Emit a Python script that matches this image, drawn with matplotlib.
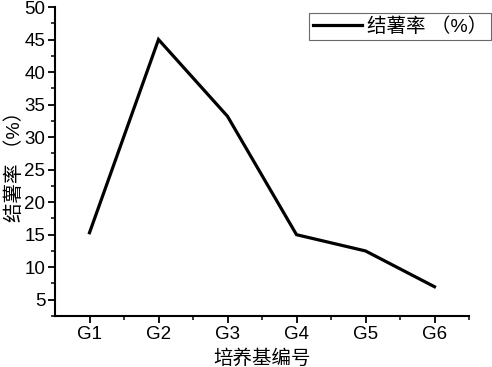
import matplotlib
matplotlib.use('Agg')
import matplotlib.pyplot as plt
from matplotlib.ticker import MultipleLocator

plt.rcParams['font.family'] = ['Liberation Sans', 'Noto Sans CJK SC', 'DejaVu Sans']

# 数据
groups = ['G1', 'G2', 'G3', 'G4', 'G5', 'G6']
rate = [15.3, 45.0, 33.2, 15.0, 12.5, 7.0]

fig = plt.figure(figsize=(4.92, 3.67), dpi=100)
ax = fig.add_axes([55 / 492, 51 / 367, 414 / 492, 309 / 367])

x = list(range(1, len(groups) + 1))
ax.plot(x, rate, color='black', lw=2.3, label='结薯率 （%）', solid_joinstyle='miter')

ax.set_xlim(0.5, 6.5)
ax.set_ylim(2.5, 50)
ax.set_xticks(x)
ax.set_xticklabels(groups)
ax.set_xticks([1.5, 2.5, 3.5, 4.5, 5.5, 6.5], minor=True)
ax.yaxis.set_major_locator(MultipleLocator(5))
ax.yaxis.set_minor_locator(MultipleLocator(2.5))

for s in ['top', 'right']:
    ax.spines[s].set_visible(False)
for s in ['left', 'bottom']:
    ax.spines[s].set_linewidth(1.5)

ax.tick_params(which='major', direction='out', length=5, width=1.3, labelsize=13.5, pad=2)
ax.tick_params(which='minor', direction='out', length=3, width=1.1)

ax.set_xlabel('培养基编号', fontsize=14, labelpad=5)
ax.set_ylabel('结薯率 （%）', fontsize=14, labelpad=0)

leg = ax.legend(loc='upper right', bbox_to_anchor=(1.053, 0.98), fontsize=14, frameon=True,
                fancybox=False, edgecolor='#444444', handlelength=2.5, handletextpad=0.25,
                borderpad=0.2, borderaxespad=0)
leg.get_frame().set_linewidth(0.8)

fig.savefig('out.png', dpi=100)
